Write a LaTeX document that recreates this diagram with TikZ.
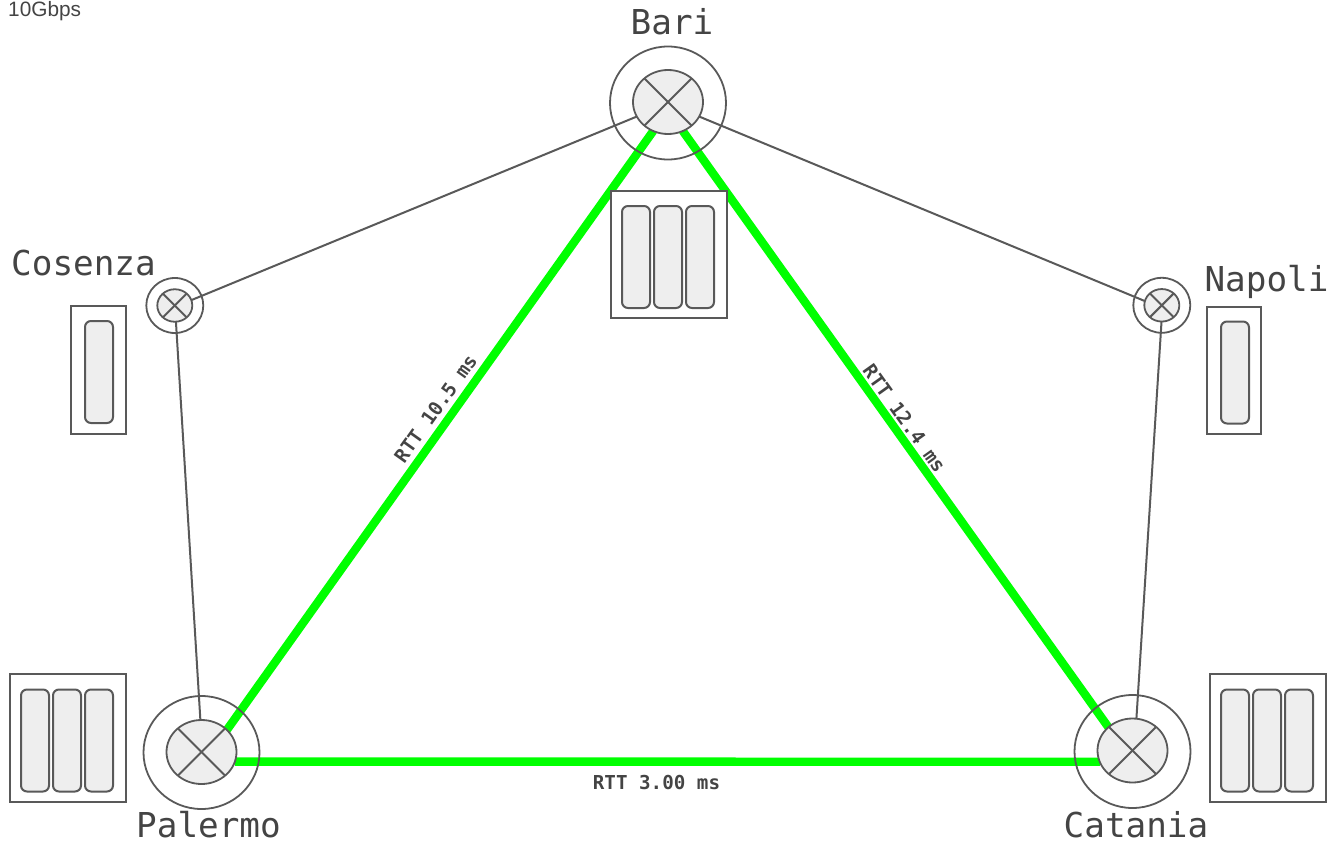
\documentclass[tikz,border=0pt]{standalone}
\usepackage{fontspec}
\setmainfont{Liberation Sans}
\setmonofont{DejaVu Sans Mono}
\usetikzlibrary{shapes.geometric,backgrounds}
\definecolor{linegray}{HTML}{595959}
\definecolor{textgray}{HTML}{444444}
\definecolor{slotgray}{HTML}{EEEEEE}
\definecolor{linkgreen}{HTML}{00FF00}
\tikzset{
  ring/.style={draw=linegray,line width=1.8pt,ellipse,inner sep=0pt,outer sep=0pt},
  core/.style={ring,fill=slotgray},
  rackbox/.style={draw=linegray,line width=2pt,fill=white,inner sep=0pt,outer sep=0pt},
  slot/.style={draw=linegray,line width=2pt,fill=slotgray,rounded corners=6pt,inner sep=0pt,
    minimum width=28pt,minimum height=102pt},
  sitename/.style={text=textgray,font=\ttfamily\fontsize{34.3}{40}\selectfont,inner sep=0pt,anchor=base},
  rttlabel/.style={text=textgray,font=\ttfamily\bfseries\fontsize{19.2}{22}\selectfont,inner sep=0pt},
  thinlink/.style={draw=linegray,line width=2pt},
  fatlink/.style={draw=linkgreen,line width=8.4pt}
}
\begin{document}
\begin{tikzpicture}[x=1pt,y=-1pt]
  \useasboundingbox (0,0) rectangle (1336,843);

  % Speed note
  \node[text=textgray,font=\fontsize{20.8}{24}\selectfont,anchor=base west,inner sep=0pt] (speed) at (8,17) {10Gbps};

  % Big routers
  \foreach \name/\x/\y/\cy in {bari/668/103/102,palermo/201.5/752.5/752,catania/1132.5/751.5/750.5}{
    \node[ring,minimum width=116pt,minimum height=113pt] (\name out) at (\x,\y) {};
    \node[core,minimum width=70pt,minimum height=64pt] (\name) at (\x,\cy) {};
  }
  % Small routers
  \foreach \name/\x/\y in {cosenza/174.8/305.5,napoli/1161.8/305.3}{
    \node[ring,minimum width=57pt,minimum height=55pt] (\name out) at (\x,\y) {};
    \node[core,minimum width=35pt,minimum height=32.5pt] (\name) at (\x,\y) {};
  }
  % Crosses
  \foreach \name in {bari,palermo,catania,cosenza,napoli}{
    \draw[thinlink] (\name.45) -- (\name.225);
    \draw[thinlink] (\name.135) -- (\name.315);
  }

  % Racks
  \node[rackbox,minimum width=116pt,minimum height=127pt] (barirack) at (669,254.5) {};
  \node[rackbox,minimum width=116pt,minimum height=128pt] (palermorack) at (68,738) {};
  \node[rackbox,minimum width=116pt,minimum height=128pt] (cataniarack) at (1268,738) {};
  \node[rackbox,minimum width=55pt,minimum height=128pt] (cosenzarack) at (98.5,370) {};
  \node[rackbox,minimum width=54pt,minimum height=127pt] (napolirack) at (1234,370.5) {};

  % Slots
  \foreach \name/\x/\y in {a/636/257,b/668/257,c/700/257,d/35/740.5,e/67/740.5,f/99/740.5,
      g/1235/740.5,h/1267/740.5,i/1299/740.5,j/99/372,k/1235/372.5}{
    \node[slot] (slot\name) at (\x,\y) {};
  }

  % Links
  \begin{scope}[on background layer]
    \draw[fatlink] (bari.243.4) -- (palermo.41);
    \draw[fatlink] (bari.-63.4) -- (catania.136.8);
    \draw[fatlink] (palermo.-16.6) -- (catania.199.4);
    \draw[thinlink] (bari.205.8) -- (cosenza.18);
    \draw[thinlink] (bari.-25.8) -- (napoli.166);
    \draw[thinlink] (cosenza.-86.5) -- (palermo.92);
    \draw[thinlink] (napoli.-91) -- (catania.83);
  \end{scope}

  % Labels
  \node[sitename] (bariname) at (672,35) {Bari};
  \node[sitename] (cosenzaname) at (83.5,275) {Cosenza};
  \node[sitename] (napoliname) at (1266.5,291) {Napoli};
  \node[sitename] (palermoname) at (208.5,837) {Palermo};
  \node[sitename] (cataniainame) at (1136,837) {Catania};
  \node[rttlabel,rotate=54.5] (rttleft) at (435.5,408.5) {RTT 10.5 ms};
  \node[rttlabel,rotate=-54.5] (rttright) at (904.5,418.5) {RTT 12.4 ms};
  \node[rttlabel] (rttbottom) at (656.5,783) {RTT 3.00 ms};
\end{tikzpicture}
\end{document}
